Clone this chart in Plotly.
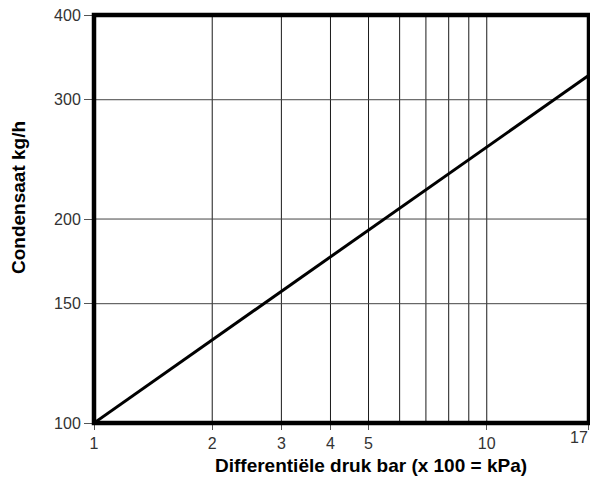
import plotly.graph_objects as go
import math

# Data
pressure = [1, 18.2]          # right edge of the axis (labelled "17")
condensate = [100, 326]
x_tick_vals = [1, 2, 3, 4, 5, 10, 18.2]
x_tick_text = ["1", "2", "3", "4", "5", "10", ""]
x_edge_label = "17"
x_grid_vals = [2, 3, 4, 5, 6, 7, 8, 9, 10]
y_tick_vals = [100, 150, 200, 300, 400]
y_tick_text = ["100", "150", "200", "300", "400"]
y_grid_vals = [150, 200, 300]
x_title = "Differentiële druk bar (x 100 = kPa)"
y_title = "Condensaat kg/h"

fig = go.Figure()
fig.add_trace(go.Scatter(x=pressure, y=condensate, mode="lines",
                         line=dict(color="black", width=3), showlegend=False,
                         hoverinfo="skip", cliponaxis=False))

shapes = []
for v in x_grid_vals:
    shapes.append(dict(type="line", xref="x", yref="paper", x0=v, x1=v, y0=0, y1=1,
                       line=dict(color="#1a1a1a", width=1), layer="below"))
for v in y_grid_vals:
    shapes.append(dict(type="line", xref="paper", yref="y", x0=0, x1=1, y0=v, y1=v,
                       line=dict(color="#444", width=1), layer="below"))
shapes.append(dict(type="rect", xref="paper", yref="paper", x0=0, x1=1, y0=0, y1=1,
                   line=dict(color="black", width=4.5)))

font = "Liberation Sans, Arial, sans-serif"
OFF = 8  # page body margin
W, H = 598 - 2 * OFF, 487 - 2 * OFF
L, T = 94 - OFF, 15 - OFF
R = W - (589 - OFF)
B = H - (423 - OFF)
PW, PH = W - L - R, H - T - B


def px_x(px):
    return (px - OFF - L) / PW


def px_y(py):
    return (H - B - (py - OFF)) / PH


fig.update_layout(
    width=W, height=H,
    margin=dict(l=L, r=R, t=T, b=B, autoexpand=False),
    paper_bgcolor="white", plot_bgcolor="white",
    shapes=shapes,
    font=dict(family=font, color="#333", size=16),
    xaxis=dict(type="log", range=[0, math.log10(18.21)],
               tickvals=x_tick_vals, ticktext=x_tick_text,
               showgrid=False, zeroline=False, showline=False, automargin=False,
               ticks="outside", ticklen=6, tickcolor="#555",
               ticklabeloverflow="allow",
               tickfont=dict(size=16, color="#333")),
    yaxis=dict(type="log", range=[2, math.log10(400.1)],
               tickvals=y_tick_vals, ticktext=y_tick_text,
               showgrid=False, zeroline=False, showline=False, automargin=False,
               ticks="outside", ticklen=9, tickcolor="#555",
               ticklabeloverflow="allow",
               tickfont=dict(size=16, color="#333")),
    annotations=[
        dict(text=x_edge_label, xref="paper", yref="paper",
             x=px_x(590), y=px_y(437), xanchor="right", yanchor="middle",
             showarrow=False, font=dict(size=16, color="#333", family=font)),
        dict(text="<b>" + x_title + "</b>", xref="paper", yref="paper",
             x=px_x(371), y=px_y(465),
             xanchor="center", yanchor="middle", showarrow=False,
             font=dict(size=19, color="black", family=font)),
        dict(text="<b>" + y_title + "</b>", xref="paper", yref="paper",
             x=px_x(19), y=px_y(198),
             xanchor="center", yanchor="middle", showarrow=False, textangle=-90,
             font=dict(size=19, color="black", family=font)),
    ],
)

fig.write_html("out.html")
